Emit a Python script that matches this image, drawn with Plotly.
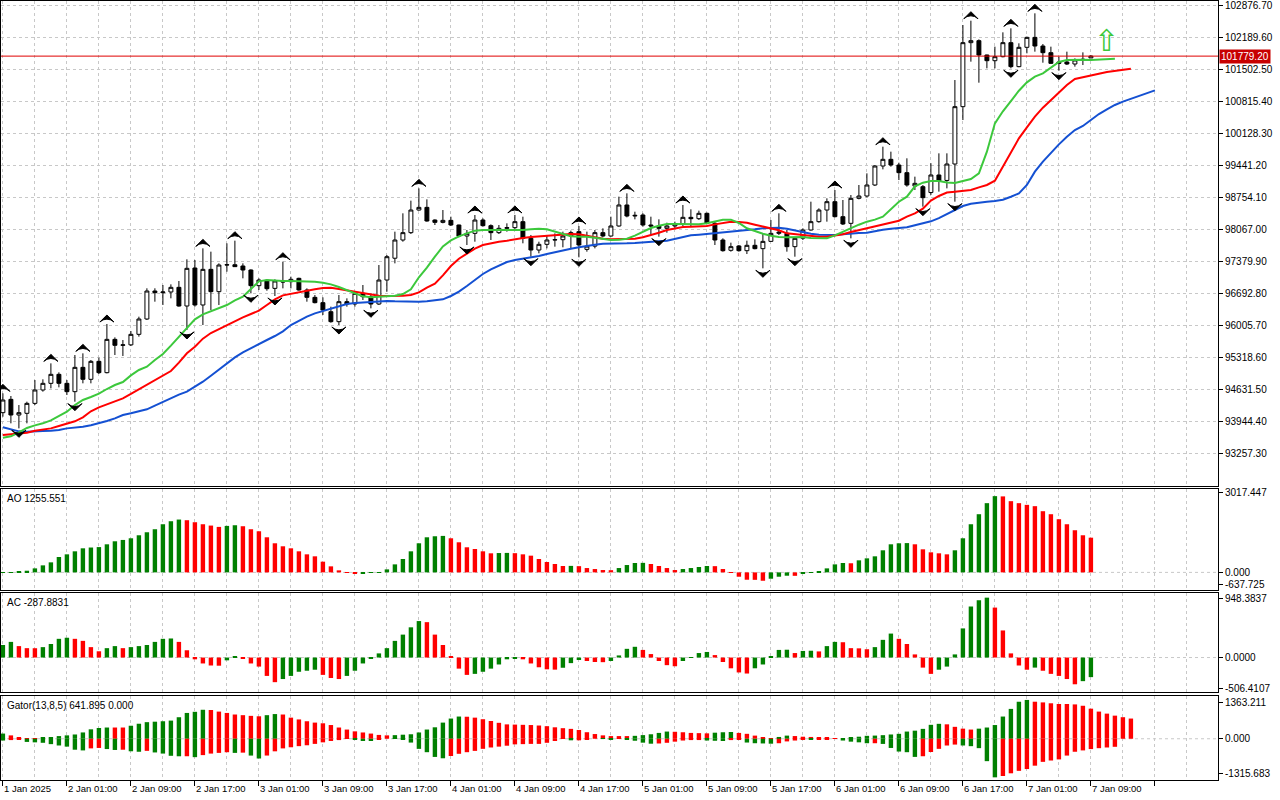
import plotly.graph_objects as go

# ---------------- data (hourly bars, bar 0 = 1 Jan 2025 17:00) ----------------
opens = [94124, 94410, 94074, 94110, 94324, 94611, 94754, 94947, 94754, 94575,
         95097, 94840, 95226, 94983, 95698, 95570, 95580, 95806, 96135, 96736,
         96700, 96715, 96815, 96414, 97230, 96436, 97201, 96722, 97294, 97300,
         97273, 97187, 96851, 96965, 96793, 96951, 96936, 97008, 96758, 96600,
         96486, 96292, 96078, 96507, 96457, 96686, 96614, 96457, 96972, 97440,
         97831, 97989, 98475, 98532, 98260, 98210, 98253, 98153, 97917, 97974,
         98260, 98139, 97989, 98082, 98096, 98225, 97867, 97616, 97738, 97831,
         97838, 97917, 98010, 97630, 97700, 97989, 97917, 98132, 98583, 98346,
         98368, 98153, 98132, 98082, 98132, 98175, 98318, 98289, 98404, 98189,
         97831, 97610, 97703, 97602, 97717, 97645, 97802, 97974, 97974, 97688,
         97870, 98046, 98225, 98475, 98654, 98332, 98189, 98726, 98776, 99012,
         99420, 99563, 99441, 99277, 98990, 98976, 98850, 99227, 99110, 99463,
         100694, 102068, 102111, 101803, 101681, 101767, 102068, 101553, 101968, 102182,
         101996, 101853, 101653, 101653, 101610, 101696, 101740]
highs = [94539, 94482, 94288, 94360, 94825, 94840, 95183, 94990, 94825, 95362,
         95398, 95255, 95305, 96028, 95741, 95684, 95877, 96185, 96794, 96794,
         96865, 96879, 96951, 97416, 97402, 97652, 97581, 97330, 97760, 97817,
         97330, 97200, 97008, 96987, 96987, 97366, 97044, 97022, 96793, 96650,
         96600, 96400, 96650, 96579, 96736, 96865, 96686, 97294, 97509, 98010,
         98404, 98676, 98940, 98704, 98275, 98475, 98332, 98160, 98046, 98368,
         98296, 98167, 98153, 98189, 98370, 98332, 97939, 97795, 97939, 97974,
         98010, 98032, 98132, 98010, 98046, 98082, 98332, 98762, 98833, 98439,
         98404, 98332, 98275, 98203, 98225, 98583, 98490, 98461, 98420, 98225,
         97867, 97774, 97724, 97817, 97846, 97974, 98261, 98404, 98046, 97889,
         98082, 98654, 98511, 98726, 98905, 98690, 98797, 99012, 99262, 99441,
         99835, 99728, 99491, 99585, 99191, 99012, 99480, 99692, 99692, 101266,
         102447, 102540, 102139, 101810, 101982, 102290, 102376, 102054, 102197, 102698,
         102039, 101982, 101767, 101875, 101731, 101860, 101800]
lows = [94038, 93895, 93787, 93895, 94288, 94575, 94646, 94668, 94503, 94360,
        94754, 94754, 94954, 94968, 95362, 95341, 95555, 95756, 96114, 96507,
        96436, 96579, 96400, 95899, 96400, 96006, 96328, 96436, 97151, 97259,
        97008, 96686, 96758, 96743, 96629, 96793, 96793, 96743, 96507, 96471,
        96221, 96056, 96006, 96400, 96400, 96543, 96364, 96436, 96722, 97330,
        97795, 97960, 98461, 98225, 98153, 98189, 98132, 97889, 97724, 97795,
        98117, 97831, 97960, 98010, 98060, 97760, 97473, 97545, 97652, 97688,
        97674, 97652, 97459, 97581, 97652, 97889, 97903, 98117, 98318, 98275,
        98117, 97938, 97903, 97988, 98082, 98132, 98132, 98261, 98189, 97724,
        97581, 97581, 97581, 97530, 97631, 97223, 97788, 97938, 97581, 97473,
        97831, 98032, 98203, 98225, 98318, 98153, 97867, 98704, 98747, 98990,
        99348, 99406, 99119, 98976, 98905, 98547, 98800, 98869, 98940, 98654,
        100407, 101660, 101209, 101517, 101517, 101753, 101517, 101540, 101839, 101875,
        101638, 101610, 101467, 101588, 101553, 101588, 101740]
closes = [94396, 94074, 94124, 94324, 94611, 94754, 94947, 94754, 94575, 95097,
          94840, 95226, 94983, 95698, 95570, 95580, 95806, 96135, 96736, 96700,
          96715, 96815, 96414, 97223, 96436, 97201, 96722, 97294, 97300, 97259,
          97187, 96851, 96972, 96786, 96951, 96930, 96987, 96758, 96600, 96486,
          96328, 96078, 96507, 96457, 96686, 96614, 96457, 96972, 97473, 97831,
          97989, 98475, 98532, 98239, 98210, 98253, 98153, 97917, 97974, 98260,
          98139, 97989, 98082, 98096, 98225, 97867, 97616, 97738, 97831, 97838,
          97917, 97989, 97724, 97700, 97989, 97917, 98132, 98583, 98346, 98360,
          98153, 98132, 98082, 98132, 98175, 98318, 98289, 98404, 98189, 97831,
          97602, 97688, 97602, 97717, 97645, 97802, 97974, 98000, 97688, 97867,
          98046, 98225, 98475, 98654, 98332, 98175, 98726, 98776, 99012, 99420,
          99563, 99441, 99277, 99012, 99048, 98740, 99227, 99100, 99463, 100694,
          102068, 102111, 101803, 101681, 101767, 102068, 101553, 101968, 102182, 101996,
          101853, 101624, 101624, 101610, 101696, 101710, 101779.2]

# Alligator lines (already shifted forward: jaw 8, teeth 5, lips 3 bars)
jaw = [93809, 93766, 93723, 93716, 93716, 93730, 93737, 93752, 93787, 93802,
       93823, 93852, 93895, 93945, 94002, 94074, 94110, 94146, 94196, 94274,
       94353, 94439, 94511, 94575, 94682, 94789, 94918, 95054, 95183, 95312,
       95419, 95512, 95598, 95684, 95770, 95870, 96006, 96099, 96185, 96257,
       96307, 96371, 96421, 96457, 96479, 96493, 96507, 96514, 96521, 96514,
       96507, 96507, 96507, 96514, 96528, 96557, 96629, 96722, 96843, 96972,
       97101, 97201, 97287, 97359, 97402, 97430, 97459, 97488, 97530, 97573,
       97616, 97645, 97674, 97709, 97731, 97752, 97760, 97760, 97760, 97767,
       97774, 97788, 97802, 97817, 97860, 97903, 97931, 97946, 97960, 97974,
       97989, 98010, 98032, 98046, 98060, 98082, 98089, 98096, 98074, 98039,
       97996, 97967, 97946, 97938, 97938, 97953, 97974, 97981, 97989, 98024,
       98053, 98074, 98089, 98103, 98146, 98189, 98232, 98300, 98390, 98489,
       98561, 98611, 98640, 98654, 98668, 98697, 98761, 98833, 99012, 99298,
       99513, 99706, 99885, 100050, 100193, 100279, 100407, 100536, 100637, 100730,
       100801, 100866, 100930, 100994, 101044]
teeth = [93644, 93659, 93673, 93694, 93737, 93766, 93787, 93837, 93895, 93938,
         94024, 94153, 94238, 94303, 94360, 94432, 94525, 94625, 94725, 94818,
         94911, 95018, 95197, 95398, 95541, 95713, 95834, 95920, 96006, 96085,
         96171, 96242, 96314, 96436, 96557, 96643, 96679, 96715, 96743, 96772,
         96800, 96808, 96779, 96750, 96715, 96693, 96672, 96636, 96629, 96629,
         96636, 96650, 96707, 96808, 96893, 97072, 97273, 97430, 97545, 97645,
         97724, 97767, 97795, 97817, 97853, 97874, 97896, 97910, 97931, 97938,
         97953, 97960, 97953, 97917, 97881, 97860, 97845, 97845, 97845, 97860,
         97890, 97931, 97988, 98046, 98082, 98110, 98117, 98125, 98132, 98167,
         98196, 98225, 98218, 98203, 98160, 98117, 98082, 98039, 97974, 97953,
         97931, 97910, 97903, 97903, 97924, 97953, 98003, 98046, 98082, 98125,
         98167, 98210, 98246, 98332, 98404, 98504, 98676, 98776, 98850, 98869,
         98883, 98904, 98962, 99012, 99105, 99405, 99713, 100013, 100250, 100479,
         100672, 100837, 100994, 101159, 101288, 101331, 101366, 101402, 101438, 101467,
         101488, 101510]
lips = [93587, 93616, 93701, 93795, 93852, 93895, 93959, 94052, 94146, 94288,
        94396, 94460, 94532, 94632, 94718, 94782, 94925, 95040, 95111, 95255,
        95384, 95562, 95756, 95956, 96128, 96235, 96307, 96371, 96436, 96536,
        96614, 96779, 96944, 96972, 96958, 96951, 96951, 96951, 96951, 96936,
        96915, 96879, 96822, 96758, 96679, 96622, 96600, 96614, 96629, 96636,
        96672, 96772, 97030, 97237, 97473, 97695, 97824, 97910, 97974, 98032,
        98046, 98046, 98046, 98039, 98032, 98046, 98060, 98074, 98060, 98010,
        97946, 97910, 97903, 97903, 97881, 97853, 97831, 97838, 97860, 97924,
        98015, 98089, 98139, 98175, 98175, 98167, 98160, 98167, 98189, 98232,
        98268, 98268, 98196, 98082, 98017, 97967, 97924, 97896, 97889, 97896,
        97896, 97874, 97867, 97867, 97931, 98010, 98096, 98160, 98225, 98268,
        98332, 98504, 98654, 98761, 98983, 99062, 99098, 99098, 99066, 99055,
        99098, 99141, 99262, 99727, 100336, 100594, 100815, 101037, 101216, 101338,
        101409, 101531, 101653, 101696, 101703, 101703, 101696, 101703, 101717, 101724]

ao = [-20, 10, 15, 60, 145, 254, 363, 557, 653, 762,
      871, 900, 915, 1016, 1125, 1174, 1234, 1343, 1452, 1561,
      1742, 1851, 1912, 1888, 1815, 1742, 1694, 1646, 1682, 1706,
      1670, 1561, 1488, 1270, 1053, 944, 871, 762, 653, 581,
      387, 218, 73, 5, -48, -40, -5, 8, 109, 290,
      484, 762, 1053, 1270, 1307, 1320, 1234, 1089, 908, 847,
      762, 690, 700, 705, 695, 653, 605, 484, 375, 303,
      230, 235, 225, 157, 121, 85, 80, 157, 266, 339,
      345, 303, 230, 157, 85, 121, 157, 194, 230, 225,
      121, -5, -157, -266, -270, -303, -230, -157, -121, -125,
      -36, -10, 20, 145, 290, 340, 330, 436, 508, 581,
      799, 1016, 1053, 1060, 1016, 835, 726, 690, 653, 799,
      1234, 1742, 2105, 2505, 2759, 2750, 2577, 2505, 2444, 2396,
      2214, 2105, 1924, 1742, 1525, 1343, 1255.551]
ac = [184, 230, 168, 138, 137, 153, 199, 275, 291, 275,
      245, 153, 92, 138, 168, 138, 153, 168, 184, 230,
      275, 280, 230, 107, -26, -87, -117, -120, -41, 15,
      -10, -87, -133, -270, -362, -316, -270, -209, -194, -179,
      -255, -301, -316, -270, -194, -87, -10, 61, 138, 245,
      337, 444, 536, 520, 337, 184, 15, -163, -255, -240,
      -209, -163, -102, -26, -10, -26, -87, -143, -173, -178,
      -150, -82, -36, -51, -66, -68, -51, 31, 128, 158,
      112, 51, -51, -112, -128, -51, -5, 66, 82, 36,
      -66, -158, -219, -235, -158, -102, 20, 112, 115, 66,
      97, 100, 90, 168, 230, 225, 138, 135, 122, 153,
      260, 352, 275, 199, 46, -148, -240, -179, -133, 46,
      428, 750, 842, 880, 734, 398, 61, -117, -179, -148,
      -194, -240, -270, -316, -393, -347, -287.8831]

fractal_up = [0, 6, 10, 13, 25, 29, 35, 52, 59, 64, 72, 78, 85, 97, 104, 110, 121, 126, 129]
fractal_down = [2, 9, 23, 31, 34, 42, 46, 58, 66, 72, 82, 95, 99, 106, 115, 119, 126, 132]
signal_bars = [138]
signal_prices = [102125]

current_price = 101779.2
price_ticks = [102876.70, 102189.60, 101502.50, 100815.40, 100128.30, 99441.20, 98754.10,
               98067.00, 97379.90, 96692.80, 96005.70, 95318.60, 94631.50, 93944.40, 93257.30]
time_labels = ["1 Jan 2025", "2 Jan 01:00", "2 Jan 09:00", "2 Jan 17:00", "3 Jan 01:00",
               "3 Jan 09:00", "3 Jan 17:00", "4 Jan 01:00", "4 Jan 09:00", "4 Jan 17:00",
               "5 Jan 01:00", "5 Jan 09:00", "5 Jan 17:00", "6 Jan 01:00", "6 Jan 09:00",
               "6 Jan 17:00", "7 Jan 01:00", "7 Jan 09:00"]
ao_range = [-637.725, 3017.447]
ac_range = [-506.4107, 948.3837]
gator_range = [-1315.683, 1363.211]
gator_last = (641.895, 0.000)

# ---------------- derived ----------------
GREEN, RED = '#008000', '#ff0000'


def trend_colors(vals):
    out = []
    for i, v in enumerate(vals):
        if i == 0:
            out.append(GREEN)
        else:
            out.append(GREEN if abs(v) > abs(vals[i - 1]) else RED)
    return out


def ao_colors(vals):
    return [GREEN if i == 0 or v > vals[i - 1] else RED for i, v in enumerate(vals)]


gator_up = [abs(jaw[i] - teeth[i]) for i in range(len(teeth))]
gator_dn = [-abs(teeth[i] - lips[i]) for i in range(len(lips))]

bars = list(range(len(opens)))
label_bars = [8 * k for k in range(len(time_labels))]

# pixel layout of the 1280x800 page
W, H = 1280, 800
top_px, bot_px = 1, 780
PH = bot_px - top_px
PX_PER_PRICE = 21.47


def dom(t, b):
    return [(bot_px - b) / PH, (bot_px - t) / PH]


main_dom = dom(1, 486)
ao_dom = dom(489, 590)
ac_dom = dom(593, 692)
gt_dom = dom(696, 780)
main_range = [price_ticks[0] + 4 * PX_PER_PRICE - 485 * PX_PER_PRICE, price_ticks[0] + 4 * PX_PER_PRICE]

fig = go.Figure()

fig.add_trace(go.Candlestick(
    x=bars, open=opens, high=highs, low=lows, close=closes,
    increasing=dict(line=dict(color='black', width=1), fillcolor='white'),
    decreasing=dict(line=dict(color='black', width=1), fillcolor='black'),
    whiskerwidth=0, showlegend=False, hoverinfo='skip', xaxis='x', yaxis='y'))

for series, col in ((jaw, '#1450d2'), (teeth, '#ff0000'), (lips, '#3cc83c')):
    fig.add_trace(go.Scatter(x=list(range(len(series))), y=series, mode='lines',
                             line=dict(color=col, width=2), showlegend=False,
                             hoverinfo='skip', xaxis='x', yaxis='y'))

off = 9 * PX_PER_PRICE
fig.add_trace(go.Scatter(x=fractal_up, y=[highs[i] + off for i in fractal_up], mode='markers',
                         marker=dict(symbol='arrow-wide', angle=0, size=10, color='black',
                                     line=dict(color='black', width=1)),
                         showlegend=False, hoverinfo='skip', xaxis='x', yaxis='y'))
fig.add_trace(go.Scatter(x=fractal_down, y=[lows[i] - off for i in fractal_down], mode='markers',
                         marker=dict(symbol='arrow-wide', angle=180, size=10, color='black',
                                     line=dict(color='black', width=1)),
                         showlegend=False, hoverinfo='skip', xaxis='x', yaxis='y'))

fig.add_trace(go.Bar(x=bars, y=ao, marker=dict(color=ao_colors(ao), line=dict(width=0)),
                     width=0.55, showlegend=False, hoverinfo='skip', xaxis='x2', yaxis='y2'))
fig.add_trace(go.Bar(x=bars, y=ac, marker=dict(color=ao_colors(ac), line=dict(width=0)),
                     width=0.55, showlegend=False, hoverinfo='skip', xaxis='x3', yaxis='y3'))
fig.add_trace(go.Bar(x=list(range(len(gator_up))), y=gator_up,
                     marker=dict(color=trend_colors(gator_up), line=dict(width=0)),
                     width=0.55, showlegend=False, hoverinfo='skip', xaxis='x4', yaxis='y4'))
fig.add_trace(go.Bar(x=list(range(len(gator_dn))), y=gator_dn,
                     marker=dict(color=trend_colors(gator_dn), line=dict(width=0)),
                     width=0.55, showlegend=False, hoverinfo='skip', xaxis='x4', yaxis='y4'))

GRID = '#c8c8c8'
FONT = dict(family='Liberation Sans', size=10, color='black')
x_range = [(1 - 2.9) / 8, (1218 - 2.9) / 8]


def xaxis(anchor, bottom=False):
    return dict(range=x_range, anchor=anchor, tickmode='linear', tick0=0, dtick=8,
                showgrid=True, gridcolor=GRID, griddash='3px,3px', gridwidth=1,
                minor=dict(tick0=0, dtick=4, showgrid=True, gridcolor=GRID, griddash='3px,3px'),
                showline=True, mirror=True, linecolor='black', linewidth=1, zeroline=False,
                showticklabels=False, ticks='outside' if bottom else '', ticklen=5,
                tickcolor='black', rangeslider=dict(visible=False), fixedrange=True)


def inset_ticks(rng, px_h, top_off, bot_off, fmt):
    per = (rng[1] - rng[0]) / px_h
    vals = [rng[0] + bot_off * per, 0, rng[1] - top_off * per]
    text = [fmt.format(rng[0]), fmt.format(0), fmt.format(rng[1])]
    return vals, text


ao_tv, ao_tt = inset_ticks(ao_range, 101, 3, 6, '{:.3f}')
ac_tv, ac_tt = inset_ticks(ac_range, 99, 5, 4, '{:.4f}')
gt_tv, gt_tt = inset_ticks(gator_range, 84, 6, 7, '{:.3f}')


def yaxis(dom_, rng, tv, tt, anchor, grid):
    return dict(domain=dom_, range=rng, anchor=anchor, side='right', tickmode='array',
                tickvals=tv, ticktext=tt, ticks='outside', ticklen=4, tickcolor='black',
                tickfont=FONT, showgrid=grid, gridcolor=GRID, griddash='3px,3px',
                showline=True, mirror=True, linecolor='black', linewidth=1, zeroline=False,
                ticklabeloverflow='allow', fixedrange=True)


layout = dict(
    width=W, height=H, margin=dict(l=1, r=W - 1218, t=top_px, b=H - bot_px, autoexpand=False),
    paper_bgcolor='white', plot_bgcolor='white', barmode='overlay', showlegend=False,
    font=FONT,
    xaxis=xaxis('y'), xaxis2=xaxis('y2'), xaxis3=xaxis('y3'), xaxis4=xaxis('y4', bottom=True),
    yaxis=yaxis(main_dom, main_range, price_ticks, ['{:.2f}'.format(p) for p in price_ticks], 'x', True),
    yaxis2=yaxis(ao_dom, ao_range, ao_tv, ao_tt, 'x2', False),
    yaxis3=yaxis(ac_dom, ac_range, ac_tv, ac_tt, 'x3', False),
    yaxis4=yaxis(gt_dom, gator_range, gt_tv, gt_tt, 'x4', False),
)
layout['xaxis2']['matches'] = 'x'
layout['xaxis3']['matches'] = 'x'
layout['xaxis4']['matches'] = 'x'
fig.update_layout(**layout)

shapes = []
for xr, yr in (('x2 domain', 'y2'), ('x3 domain', 'y3'), ('x4 domain', 'y4')):
    shapes.append(dict(type='line', xref=xr, yref=yr, x0=0, x1=1, y0=0, y1=0,
                       line=dict(color=GRID, width=1, dash='3px,3px'), layer='below'))
shapes.append(dict(type='line', xref='x domain', yref='y', x0=0, x1=1,
                   y0=current_price, y1=current_price, line=dict(color='#e00000', width=1)))
fig.update_layout(shapes=shapes)

ann = []
for b, t in zip(label_bars, time_labels):
    ann.append(dict(x=b, y=0, xref='x4', yref='paper', text=t, showarrow=False,
                    xanchor='left', yanchor='top', xshift=-1, yshift=-1,
                    font=dict(family='Liberation Sans', size=9.5, color='black')))
ann.append(dict(x=1, y=current_price, xref='paper', yref='y', text='{:.2f}'.format(current_price),
                showarrow=False, xanchor='left', yanchor='middle', xshift=1,
                bgcolor='#c80000', font=dict(family='Liberation Sans', size=10, color='white'),
                borderpad=1))
panel_titles = [
    ('y2 domain', 'AO {:.3f}'.format(ao[-1])),
    ('y3 domain', 'AC {:.4f}'.format(ac[-1])),
    ('y4 domain', 'Gator(13,8,5) {:.3f} {:.3f}'.format(*gator_last)),
]
for yr, t in panel_titles:
    ann.append(dict(x=0, y=1, xref='paper', yref=yr, text=t, showarrow=False,
                    xanchor='left', yanchor='top', xshift=4, yshift=-2, font=FONT))
for b, p in zip(signal_bars, signal_prices):
    ann.append(dict(x=b, y=p, xref='x', yref='y', text='\u21e7', showarrow=False,
                    font=dict(family='DejaVu Sans', size=30, color='#3cc83c')))
fig.update_layout(annotations=ann)

fig.write_html('out.html', config={'displayModeBar': False},
               post_script="document.body.style.margin='0';document.body.style.overflow='hidden';")
